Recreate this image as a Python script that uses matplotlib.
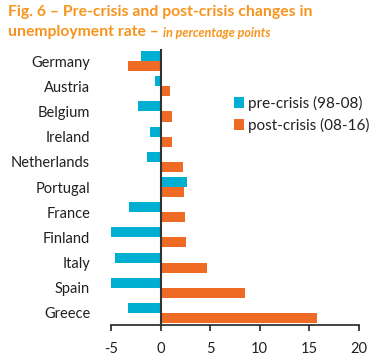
import matplotlib
matplotlib.use("Agg")
import matplotlib.pyplot as plt
import numpy as np

countries = ["Germany", "Austria", "Belgium", "Ireland", "Netherlands", "Portugal",
             "France", "Finland", "Italy", "Spain", "Greece"]
pre_crisis = [-2.0, -0.6, -2.3, -1.1, -1.4, 2.7, -3.2, -5.0, -4.6, -5.0, -3.3]
post_crisis = [-3.3, 1.0, 1.15, 1.2, 2.3, 2.4, 2.5, 2.55, 4.7, 8.55, 15.8]
xticks = [-5, 0, 5, 10, 15, 20]

cyan = "#00AFD1"
orange = "#EE6A25"
title_col = "#F7941D"
text_col = "#231F20"

plt.rcParams['font.family'] = ['Lato', 'DejaVu Sans']

fig = plt.figure(figsize=(3.88, 3.6), dpi=100)
ax = fig.add_axes([0.286, 0.097, 0.639, 0.767])

y = np.arange(len(countries))
h = 0.4
ax.barh(y - h / 2, pre_crisis, height=h, color=cyan, label="pre-crisis (98-08)")
ax.barh(y + h / 2, post_crisis, height=h, color=orange, label="post-crisis (08-16)")

ax.set_xlim(-5, 20)
ax.set_ylim(len(countries) - 0.52, -0.48)
ax.axvline(0, color="#333333", lw=1.5, zorder=3)

for s in ["top", "right", "left"]:
    ax.spines[s].set_visible(False)
ax.spines["bottom"].set_color("#222222")
ax.spines["bottom"].set_linewidth(1.2)

ax.set_xticks(xticks)
ax.set_xticklabels([str(t) for t in xticks], fontsize=10.5, color=text_col)
ax.tick_params(axis="x", direction="out", length=4, width=1.2, color="#222222", pad=8)
ax.set_yticks(y)
ax.set_yticklabels(countries, fontsize=10.5, color=text_col)
ax.tick_params(axis="y", length=0, pad=15)

ax.legend(loc="upper left", bbox_to_anchor=(0.44, 0.88), frameon=False,
          fontsize=11, handlelength=0.65, handleheight=0.65, handletextpad=0.3,
          labelspacing=0.45, labelcolor=text_col)

fig.text(0.02, 0.985, "Fig. 6 – Pre-crisis and post-crisis changes in",
         fontsize=11.3, fontweight="bold", color=title_col, va="top")
t = fig.text(0.02, 0.93, "unemployment rate – ", fontsize=11.3, fontweight="bold",
             color=title_col, va="top")
fig.canvas.draw()
bb = t.get_window_extent()
x1 = fig.transFigure.inverted().transform((bb.x1, bb.y0))[0]
fig.text(x1, 0.925, "in percentage points", fontsize=9, fontweight="bold",
         style="italic", color=title_col, va="top")

fig.savefig("out.png", dpi=100)
